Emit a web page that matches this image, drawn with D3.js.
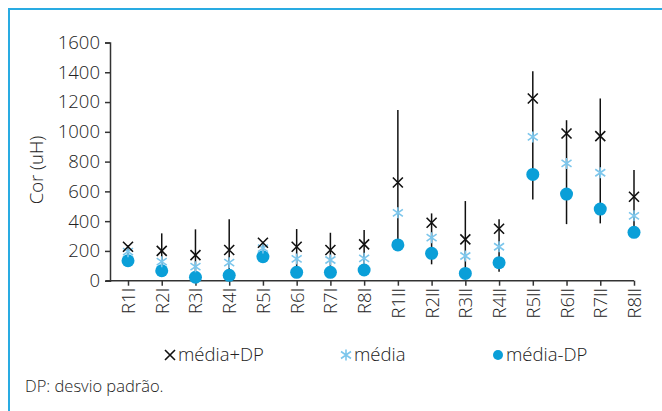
<!DOCTYPE html>
<html>
<head>
<meta charset="utf-8">
<script src="https://cdn.jsdelivr.net/npm/d3@7"></script>
<style>
  body { margin: 0; background: #fff; }
  svg text { font-family: "Open Sans", sans-serif; font-weight: 300; fill: #222; }
</style>
</head>
<body>
<div id="chart"></div>
<script>
// Categories and series
const categories = ["R1I", "R2I", "R3I", "R4I", "R5I", "R6I", "R7I", "R8I",
  "R1II", "R2II", "R3II", "R4II", "R5II", "R6II", "R7II", "R8II"];
const mediaMaisDP = [228, 200, 172, 206, 255, 228, 206, 244, 660, 389, 278, 349, 1224, 989, 971, 564];
const media = [195, 128, 94, 121, 219, 146, 139, 150, 456, 289, 166, 228, 966, 788, 725, 436];
const mediaMenosDP = [134, 67, 23, 36, 161, 56, 56, 72, 240, 184, 49, 121, 714, 582, 481, 325];
const barTop = [240, 318, 345, 412, 262, 347, 322, 340, 1146, 452, 535, 412, 1407, 1078, 1224, 743];
const barBottom = [94, 67, 23, 36, 161, 56, 56, 72, 240, 110, 49, 60, 546, 380, 385, 325];
const yTicks = [0, 200, 400, 600, 800, 1000, 1200, 1400, 1600];
const legendLabels = ["média+DP", "média", "média-DP"];

const width = 662, height = 411;
const blue = "#0a9fd8", light = "#7cc6ec";

const svg = d3.select("#chart").append("svg")
  .attr("width", width)
  .attr("height", height);

// frame
svg.append("rect")
  .attr("x", 9).attr("y", 9)
  .attr("width", 700).attr("height", 500)
  .attr("fill", "none")
  .attr("stroke", "#29abe2")
  .attr("stroke-width", 2);

const x = d3.scalePoint().domain(categories).range([128, 634]);
const y = d3.scaleLinear().domain([0, 1600]).range([280.7, 42.5]);

// y axis
const yAxis = svg.append("g")
  .attr("transform", "translate(110,0)")
  .call(d3.axisLeft(y).tickValues(yTicks).tickFormat(d3.format("d")).tickSize(5).tickPadding(5));
yAxis.selectAll("text").style("font-size", "18.5px");

// x axis
const xAxis = svg.append("g")
  .attr("transform", `translate(0,${y(0)})`)
  .call(d3.axisBottom(x).tickSize(5).tickSizeOuter(0).tickPadding(4));
xAxis.select(".domain").attr("d", `M106,0H${x(categories[categories.length - 1])}`);
xAxis.selectAll("text")
  .style("font-size", "18.5px")
  .attr("text-anchor", "end")
  .attr("transform", "rotate(-90)")
  .attr("x", -7)
  .attr("y", 0)
  .attr("dy", "0.35em");

svg.selectAll(".domain, .tick line")
  .attr("stroke", "#333")
  .attr("stroke-width", 1.5);

// y title
svg.append("text")
  .attr("transform", "translate(37,170) rotate(-90)")
  .attr("text-anchor", "middle")
  .attr("dy", "0.35em")
  .style("font-size", "18.5px")
  .text("Cor (uH)");

// error lines
svg.append("g").selectAll("line")
  .data(categories)
  .join("line")
  .attr("x1", d => x(d)).attr("x2", d => x(d))
  .attr("y1", (d, i) => y(barTop[i]))
  .attr("y2", (d, i) => y(barBottom[i]))
  .attr("stroke", "#111")
  .attr("stroke-width", 1.5);

const s = 5;
function cross(g, color) {
  g.append("path")
    .attr("d", `M${-s},${-s}L${s},${s}M${-s},${s}L${s},${-s}`)
    .attr("stroke", color).attr("stroke-width", 1.6).attr("fill", "none");
}
function star(g, color) {
  g.append("path")
    .attr("d", `M${-s},${-s * 0.7}L${s},${s * 0.7}M${-s},${s * 0.7}L${s},${-s * 0.7}M0,${-s * 1.1}V${s * 1.1}`)
    .attr("stroke", color).attr("stroke-width", 1.6).attr("fill", "none");
}
function dot(g, color, r) {
  g.append("circle").attr("r", r).attr("fill", color);
}

// média-DP dots
svg.append("g").selectAll("circle")
  .data(categories)
  .join("circle")
  .attr("cx", d => x(d))
  .attr("cy", (d, i) => y(mediaMenosDP[i]))
  .attr("r", 6.5)
  .attr("fill", blue);

// média asterisks
svg.append("g").selectAll("g")
  .data(categories)
  .join("g")
  .attr("transform", (d, i) => `translate(${x(d)},${y(media[i])})`)
  .each(function () { star(d3.select(this), light); });

// média+DP crosses
svg.append("g").selectAll("g")
  .data(categories)
  .join("g")
  .attr("transform", (d, i) => `translate(${x(d)},${y(mediaMaisDP[i])})`)
  .each(function () { cross(d3.select(this), "#111"); });

// legend
const legendX = [170, 346, 498];
const legendMark = [g => cross(g, "#111"), g => star(g, light), g => dot(g, blue, 5)];
const items = svg.append("g").attr("transform", "translate(0,355)")
  .selectAll("g")
  .data(legendLabels)
  .join("g")
  .attr("transform", (d, i) => `translate(${legendX[i]},0)`);
items.each(function (d, i) { legendMark[i](d3.select(this)); });
items.append("text")
  .attr("x", 8)
  .attr("dy", "0.35em")
  .style("font-size", "18.5px")
  .text(d => d);

// footnote
svg.append("text")
  .attr("x", 25).attr("y", 392)
  .style("font-size", "16.5px")
  .text("DP: desvio padrão.");
</script>
</body>
</html>
